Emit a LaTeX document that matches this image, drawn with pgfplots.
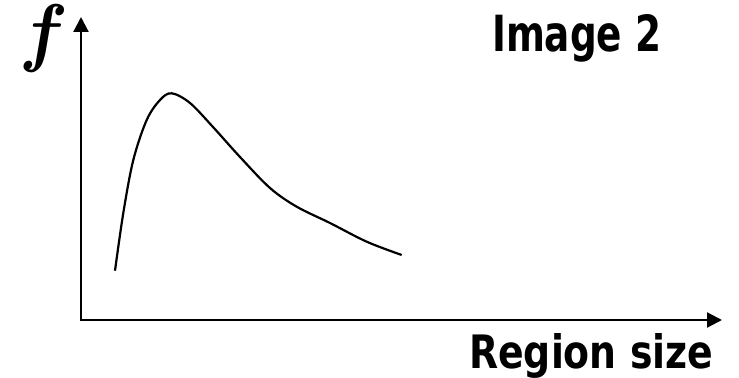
\documentclass[border=0pt]{standalone}
\usepackage{fontspec}
\usepackage{graphicx}
\usepackage{bm}
\usepackage{pgfplots}
\pgfplotsset{compat=1.18}
\usetikzlibrary{arrows.meta}
\setmainfont{DejaVu Sans}
\newfontfamily\tahoma{DejaVu Sans Condensed}[BoldFont={DejaVu Sans Condensed Bold}]
\begin{document}
\begin{tikzpicture}
\begin{axis}[
  x=1pt, y=1pt,
  xmin=0, xmax=739, ymin=0, ymax=376,
  hide axis, clip=false,
  scale only axis,
]
\path (axis cs:0,0) rectangle (axis cs:739,376);
% axes
\draw[line width=2.2pt, -{Triangle[length=15pt,width=15pt]}] (axis cs:81,55) -- (axis cs:81,359);
\draw[line width=2.2pt, -{Triangle[length=15pt,width=15pt]}] (axis cs:80,56) -- (axis cs:722,56);
% curve
\addplot[black, line width=2.2pt, smooth, tension=0.55] coordinates {
(115,105.3)
(123.3,163)
(133.3,216)
(146.7,256)
(160,276)
(171.7,282.7)
(190,273)
(213,249)
(240,219)
(270,188)
(296.7,169.3)
(330,153)
(366.7,134.3)
(401.7,121)
};
\node[anchor=center, inner sep=0pt] at (axis cs:44,338) {\scalebox{7.2}[7.6]{$\bm{f}$}};
\node[anchor=base west, inner sep=0pt] at (axis cs:492,324) {\resizebox{169pt}{37pt}{\fontsize{50}{60}\selectfont\tahoma\bfseries Image 2}};
\node[anchor=base west, inner sep=0pt] at (axis cs:469,8) {\resizebox{244pt}{35pt}{\fontsize{50}{60}\selectfont\tahoma\bfseries Region size}};
\end{axis}
\end{tikzpicture}
\end{document}
